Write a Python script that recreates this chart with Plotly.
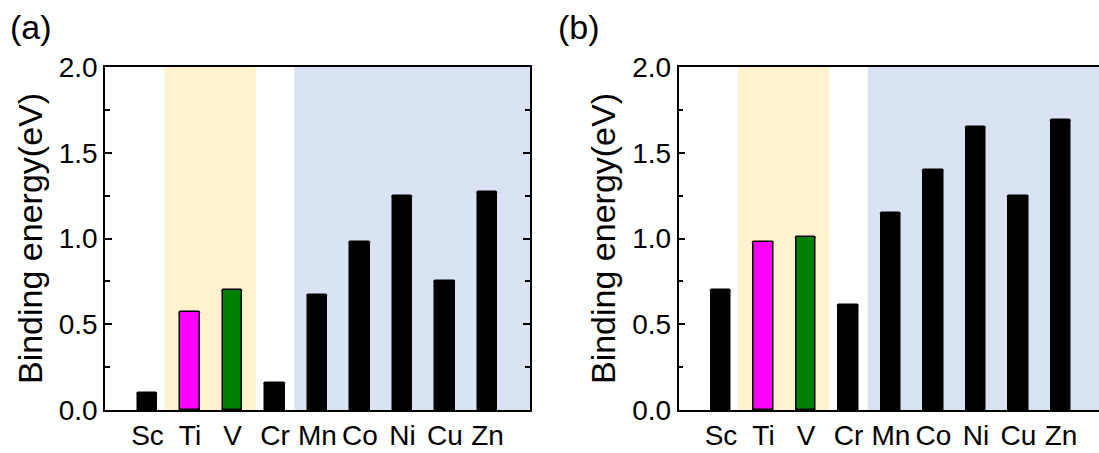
import plotly.graph_objects as go

# Transition metals along the 3d row
elements = ["Sc", "Ti", "V", "Cr", "Mn", "Co", "Ni", "Cu", "Zn"]

# Binding energies (eV) for the two configurations
energy_a = [0.10, 0.57, 0.70, 0.16, 0.67, 0.98, 1.25, 0.75, 1.27]
energy_b = [0.70, 0.98, 1.01, 0.61, 1.15, 1.40, 1.65, 1.25, 1.69]

bar_colors = ["#000000", "#FF00FF", "#008000", "#000000", "#000000",
              "#000000", "#000000", "#000000", "#000000"]

y_tick_vals = [0.0, 0.5, 1.0, 1.5, 2.0]
y_tick_text = ["0.0", "0.5", "1.0", "1.5", "2.0"]

W, H = 1099, 453
FONT = "Arial, Liberation Sans, sans-serif"
x_pos = list(range(len(elements)))

fig = go.Figure()

for i, energy in enumerate([energy_a, energy_b]):
    suffix = "" if i == 0 else "2"
    fig.add_trace(go.Bar(
        x=x_pos, y=energy,
        marker=dict(color=bar_colors, line=dict(color="#000000", width=1.5),
                    cornerradius=2),
        width=0.45,
        xaxis="x" + suffix, yaxis="y" + suffix,
        showlegend=False,
    ))

# plot areas in pixels
left_a, right_a = 105, 530
left_b = 678.5
step = (right_a - left_a) / 10.0
right_b_range = -1 + (W - left_b) / step

axis_common = dict(
    showline=True, linecolor="#000000", linewidth=1.5,
    showgrid=False, zeroline=False,
    tickfont=dict(family=FONT, size=28, color="#000000"),
)

xaxis_common = dict(
    axis_common,
    tickmode="array", tickvals=x_pos, ticktext=elements,
    ticks="", mirror=True,
)
yaxis_common = dict(
    axis_common,
    range=[0, 2.0], tickmode="array", tickvals=y_tick_vals, ticktext=y_tick_text,
    ticks="inside", ticklen=7, tickwidth=1.5, tickcolor="#000000",
    minor=dict(ticks="inside", ticklen=5, tickwidth=1.5, tickcolor="#000000",
               tickmode="linear", tick0=0, dtick=0.25),
    title=dict(text="Binding energy(eV)",
               font=dict(family=FONT, size=34, color="#000000"), standoff=6),
)

fig.update_layout(
    width=W, height=H,
    margin=dict(l=0, r=0, t=67, b=43),
    paper_bgcolor="white", plot_bgcolor="white",
    bargap=0,
    xaxis=dict(xaxis_common, domain=[left_a / W, right_a / W], range=[-1, 9],
               anchor="y"),
    yaxis=dict(yaxis_common, domain=[0, 1], anchor="x", mirror="ticks"),
    xaxis2=dict(xaxis_common, domain=[left_b / W, 1.0], range=[-1, right_b_range],
                anchor="y2"),
    yaxis2=dict(yaxis_common, domain=[0, 1], anchor="x2", mirror=False),
)

# shaded element groups
shades = [(0.4, 2.55, "#FFF2CC"), (3.45, 9.0, "#DAE3F3")]
for xr, yr in [("x", "y"), ("x2", "y2")]:
    for x0, x1, col in shades:
        fig.add_shape(type="rect", xref=xr, yref=yr + " domain",
                      x0=x0, x1=x1, y0=0, y1=1,
                      fillcolor=col, line=dict(width=0), layer="below")

# panel labels
for label, px in [("(a)", 8), ("(b)", 556)]:
    fig.add_annotation(text=label, xref="paper", yref="paper",
                       x=px / W, y=(410 - 27) / 343.0,
                       xanchor="left", yanchor="middle", showarrow=False,
                       font=dict(family=FONT, size=34, color="#000000"))

fig.write_html("out.html")
